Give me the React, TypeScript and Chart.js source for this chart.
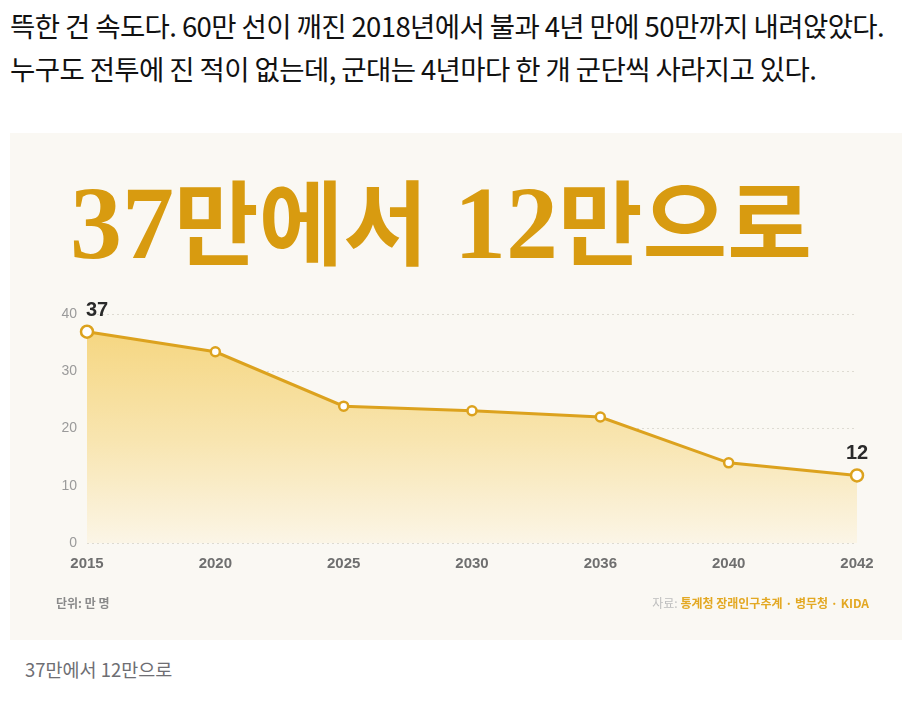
import React, { useEffect, useRef } from "react";
import { Chart, registerables } from "chart.js";

Chart.register(...registerables);

const years = ["2015", "2020", "2025", "2030", "2036", "2040", "2042"];
const soldiers = [36.9, 33.4, 23.9, 23.1, 22, 14, 11.8];
const yTicks = [0, 10, 20, 30, 40];
const labelIndexes = [0, 6];

const GOLD = "#DCA21E";
const NARROW = "'Liberation Sans Narrow', 'Liberation Sans', 'DejaVu Sans Condensed', sans-serif";

const endLabels = {
  id: "endLabels",
  afterDatasetsDraw(chart: any) {
    const meta = chart.getDatasetMeta(0);
    const ctx = chart.ctx;
    ctx.save();
    ctx.font = `bold 20px ${NARROW}`;
    ctx.fillStyle = "#2a2a2a";
    ctx.textAlign = "center";
    ctx.textBaseline = "alphabetic";
    labelIndexes.forEach((i) => {
      const p = meta.data[i];
      const dx = i === 0 ? 10 : 0;
      ctx.fillText(String(Math.round(soldiers[i])), p.x + dx, p.y - 16);
    });
    ctx.restore();
  },
};

function ChartPanel() {
  const ref = useRef<HTMLCanvasElement | null>(null);
  useEffect(() => {
    if (!ref.current) return;
    const chart = new Chart(ref.current, {
      type: "line",
      data: {
        labels: years,
        datasets: [
          {
            data: soldiers,
            borderColor: GOLD,
            borderWidth: 3,
            fill: "origin",
            clip: false as any,
            backgroundColor: (c: any) => {
              const ca = c.chart.chartArea;
              if (!ca) return "rgba(245,213,124,0.6)";
              const g = c.chart.ctx.createLinearGradient(0, ca.top, 0, ca.bottom);
              g.addColorStop(0, "#F5D47A");
              g.addColorStop(0.55, "#F8E5B0");
              g.addColorStop(1, "#FBF5E6");
              return g;
            },
            pointRadius: soldiers.map((_, i) => (i === 0 || i === soldiers.length - 1 ? 6 : 4.5)),
            pointBackgroundColor: "#ffffff",
            pointBorderColor: GOLD,
            pointBorderWidth: 2.5,
            tension: 0,
          },
        ],
      },
      options: {
        animation: false,
        responsive: true,
        maintainAspectRatio: false,
        layout: { padding: { left: 0, right: 53, top: 181, bottom: 57 } },
        plugins: { legend: { display: false }, tooltip: { enabled: false } },
        scales: {
          x: {
            afterFit: (s: any) => {
              s.height = 40;
            },
            grid: { display: false, drawTicks: false },
            border: { display: false },
            ticks: {
              padding: 12,
              color: "#6f6f6f",
              font: { family: NARROW, size: 15, weight: "bold" },
            },
          },
          y: {
            min: 0,
            max: 40,
            afterFit: (s: any) => {
              s.width = 77;
            },
            afterBuildTicks: (s: any) => {
              s.ticks = yTicks.map((v) => ({ value: v }));
            },
            grid: {
              color: "#dedbd2",
              lineWidth: 1,
              drawTicks: false,
            },
            border: { display: false, dash: [2, 3] },
            ticks: {
              padding: 10,
              color: "#9a9a9a",
              font: { family: NARROW, size: 14 },
            },
          },
        },
      },
      plugins: [endLabels],
    });
    return () => chart.destroy();
  }, []);
  return <canvas ref={ref} />;
}

export default function App() {
  return (
    <div
      style={{
        position: "relative",
        width: 910,
        height: 725,
        margin: -8,
        background: "#ffffff",
        overflow: "hidden",
        fontFamily: "'Noto Sans CJK KR', sans-serif",
      }}
    >
      <div
        style={{
          position: "absolute",
          left: 10,
          top: 4,
          fontSize: 27.5,
          lineHeight: "43px",
          letterSpacing: -0.6,
          color: "#111111",
          whiteSpace: "nowrap",
        }}
      >
        <div>뜩한 건 속도다. 60만 선이 깨진 2018년에서 불과 4년 만에 50만까지 내려앉았다.</div>
        <div>누구도 전투에 진 적이 없는데, 군대는 4년마다 한 개 군단씩 사라지고 있다.</div>
      </div>

      <div
        style={{
          position: "absolute",
          left: 10,
          top: 133,
          width: 900,
          height: 507,
          background: "#FAF8F3",
        }}
      >
        <div style={{ position: "absolute", left: 0, top: 0, width: 900, height: 507 }}>
          <ChartPanel />
        </div>
        <div
          style={{
            position: "absolute",
            left: 60,
            top: 20,
            color: "#D89B10",
            whiteSpace: "nowrap",
            lineHeight: "130px",
            fontWeight: 700,
          }}
        >
          <span style={{ fontFamily: "'Liberation Serif', serif", fontSize: 104 }}>37</span>
          <span style={{ fontFamily: "'Noto Sans CJK KR', sans-serif", fontSize: 92, letterSpacing: 0 }}>만에서</span>
          <span style={{ fontFamily: "'Liberation Serif', serif", fontSize: 104 }}> 12</span>
          <span style={{ fontFamily: "'Noto Sans CJK KR', sans-serif", fontSize: 92, letterSpacing: 0 }}>만으로</span>
        </div>
        <div
          style={{
            position: "absolute",
            left: 46,
            top: 461,
            fontSize: 12,
            fontWeight: 700,
            color: "#8a8a8a",
            whiteSpace: "nowrap",
          }}
        >
          단위: 만 명
        </div>
        <div
          style={{
            position: "absolute",
            right: 41,
            top: 461,
            fontSize: 12,
            fontWeight: 700,
            color: "#E3A823",
            whiteSpace: "nowrap",
          }}
        >
          <span style={{ color: "#bdbdbd", fontWeight: 400 }}>자료: </span>통계청 장래인구추계 · 병무청 · KIDA
        </div>
      </div>

      <div
        style={{
          position: "absolute",
          left: 25,
          top: 656,
          fontSize: 18.5,
          color: "#6E6E73",
          whiteSpace: "nowrap",
        }}
      >
        37만에서 12만으로
      </div>
    </div>
  );
}
